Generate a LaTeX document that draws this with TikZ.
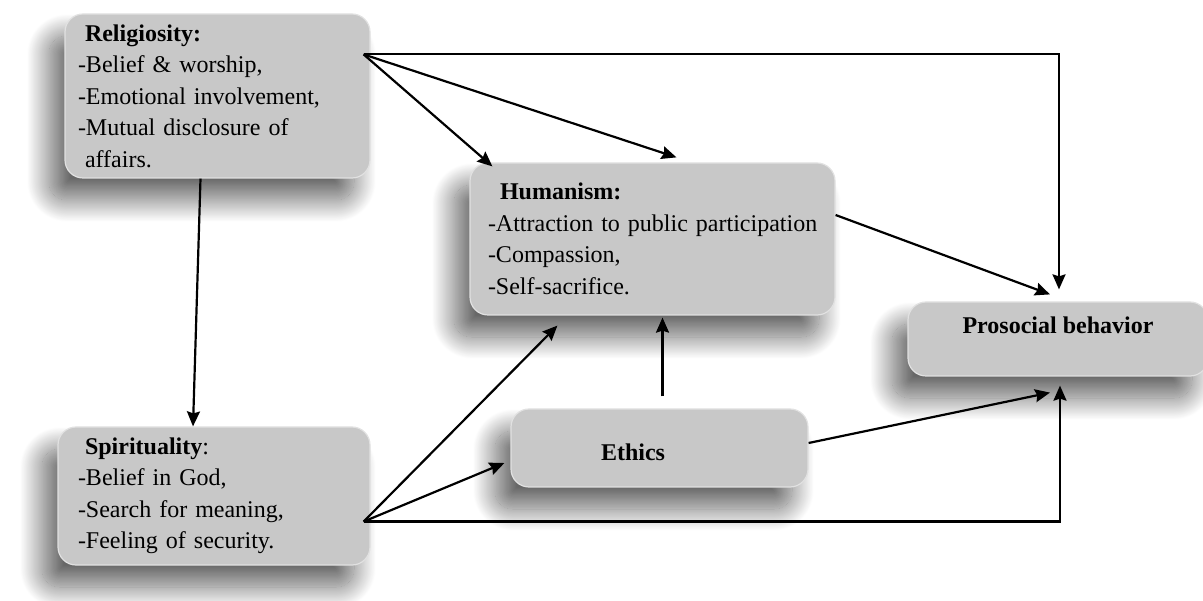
\documentclass[tikz,border=0pt]{standalone}
\usepackage{fontspec}
\setmainfont{Liberation Serif}
\usepackage{tikz}
\usetikzlibrary{arrows.meta, shadows.blur}
\definecolor{boxgray}{RGB}{200, 200, 200}
\definecolor{boxedge}{RGB}{225, 225, 225}
\newcommand{\boxfont}{\fontsize{24}{31.5}\selectfont}
\tikzstyle{factor} = [rectangle, rounded corners=18pt, fill=boxgray, draw=boxedge, line width=1.2pt,
                      inner sep=0pt, font=\boxfont,
                      blur shadow={shadow xshift=-16pt, shadow yshift=-22pt, shadow blur radius=22pt,
                                   shadow blur steps=40, shadow opacity=60}]
\tikzstyle{listbox} = [factor, align=left]
\tikzstyle{arrow} = [-{Stealth[length=15pt, width=13pt, inset=2pt]}, line width=2.2pt]

\begin{document}
\begin{tikzpicture}[x=1pt, y=-1pt]
    \useasboundingbox (0,0) rectangle (1203,601);

    % Factors
    \node[listbox, minimum width=305pt, minimum height=164pt, text width=279pt] (relig) at (217.5,96)
        {\hspace*{7pt}\textbf{Religiosity:}\\-Belief \& worship,\\-Emotional involvement,\\-Mutual disclosure of\\\hspace*{7pt}affairs.};
    \node[listbox, minimum width=365pt, minimum height=152pt, text width=329pt] (human) at (652.5,239)
        {\hspace*{12pt}\textbf{Humanism:}\\\mbox{-Attraction to public participation}\\-Compassion,\\-Self-sacrifice.};
    \node[listbox, minimum width=312pt, minimum height=138pt, text width=272pt] (spirit) at (214,496)
        {\hspace*{7pt}\textbf{Spirituality}:\\-Belief in God,\\-Search for meaning,\\-Feeling of security.};
    \node[factor, minimum width=297pt, minimum height=78pt] (ethics) at (659.5,448)
        {\raisebox{-13pt}[0pt][0pt]{\textbf{Ethics}\hspace*{53pt}}};
    \node[factor, minimum width=300pt, minimum height=74pt] (prosoc) at (1058,339)
        {\raisebox{5pt}[0pt][0pt]{\textbf{Prosocial behavior}}};

    % Fan-out points
    \coordinate (relout) at ([xshift=-7pt, yshift=-41pt]relig.north east);
    \coordinate (spiout) at ([xshift=-7pt, yshift=44pt]spirit.south east);

    % Paths
    \draw[arrow] (relout) -| ([xshift=1pt, yshift=12pt]prosoc.north);
    \draw[arrow] (relout) -- ([xshift=23pt, yshift=-4pt]human.north west);
    \draw[arrow] (relout) -- ([xshift=24pt, yshift=5pt]human.north);
    \draw[arrow] ([xshift=-17pt]relig.south) -- ([xshift=-21pt]spirit.north);
    \draw[arrow] ([yshift=24pt]human.east) -- ([xshift=-8pt, yshift=7pt]prosoc.north);
    \draw[arrow] (spiout) -- ([xshift=88pt, yshift=-10pt]human.south west);
    \draw[arrow] (spiout) -- ([xshift=-6pt, yshift=-15pt]ethics.west);
    \draw[arrow] (spiout) -| ([xshift=2pt, yshift=-9pt]prosoc.south);
    \draw[arrow] ([xshift=3pt, yshift=12pt]ethics.north) -- ([xshift=10pt, yshift=-2pt]human.south);
    \draw[arrow] ([yshift=5pt]ethics.east) -- ([xshift=-8pt, yshift=-16pt]prosoc.south);
\end{tikzpicture}
\end{document}
